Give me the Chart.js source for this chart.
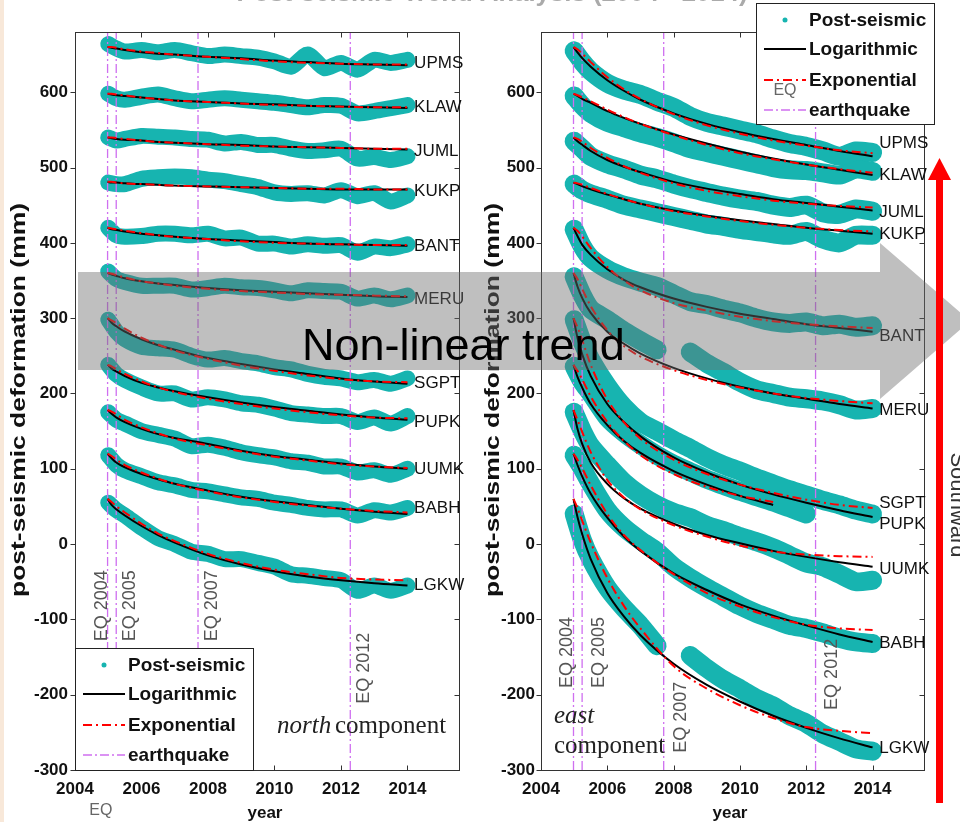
<!DOCTYPE html>
<html>
<head>
<meta charset="utf-8">
<title>Post-seismic deformation</title>
<script src="https://cdn.jsdelivr.net/npm/chart.js@4.4.0/dist/chart.umd.min.js"></script>
<style>
  html, body { margin: 0; padding: 0; background: #fff; }
  #wrap { position: relative; width: 960px; height: 822px; overflow: hidden; }
  #wrap canvas { position: absolute; top: 0; }
</style>
</head>
<body>
<div id="wrap">
  <canvas id="north" width="480" height="822" style="left:0"></canvas>
  <canvas id="east" width="480" height="822" style="left:480px"></canvas>
  <canvas id="overlay" width="960" height="822" style="left:0"></canvas>
</div>
<script>
// Post-seismic deformation, north and east components (mm)

const stations = ['UPMS', 'KLAW', 'JUML', 'KUKP', 'BANT', 'MERU', 'SGPT', 'PUPK', 'UUMK', 'BABH', 'LGKW'];
const fitYears = [2004.98, 2005.1, 2005.25, 2005.5, 2006, 2006.5, 2007, 2008, 2009, 2010, 2011, 2012, 2013, 2014];
const obsYears = [2005, 2005.25, 2005.5, 2006, 2006.5, 2007, 2007.5, 2008, 2008.5, 2009, 2009.5, 2010, 2010.5, 2011, 2011.5, 2012, 2012.5, 2013, 2013.5, 2014];
const quakeYears = [2004.98, 2005.24, 2007.7, 2012.28];
const quakeNames = ['EQ 2004', 'EQ 2005', 'EQ 2007', 'EQ 2012'];
const yearTicks = [2004, 2006, 2008, 2010, 2012, 2014];
const mmTicks = [-300, -200, -100, 0, 100, 200, 300, 400, 500, 600];

// north component
const northObs = [
    [664, 658, 654, 656, 653, 656, 652, 648, 650, 648, 646, 641, 634, 650, 632, 639, 630, 643, 639, 643],
    [598, 592, 590, 594, 597, 592, 588, 590, 592, 590, 588, 586, 583, 580, 583, 582, 572, 575, 579, 583],
    [540, 536, 538, 542, 541, 540, 538, 537, 532, 534, 530, 530, 525, 522, 523, 525, 512, 514, 510, 515],
    [480, 478, 478, 485, 487, 488, 487, 484, 482, 478, 474, 467, 465, 466, 463, 470, 462, 466, 455, 463],
    [420, 410, 408, 409, 412, 412, 410, 412, 406, 407, 399, 399, 395, 398, 396, 397, 387, 395, 393, 398],
    [362, 352, 348, 343, 343, 343, 338, 340, 343, 341, 340, 337, 333, 337, 336, 335, 326, 330, 325, 330],
    [298, 282, 272, 262, 260, 258, 250, 245, 247, 243, 240, 235, 232, 226, 222, 220, 215, 218, 213, 220],
    [238, 225, 218, 208, 200, 200, 192, 195, 192, 187, 185, 180, 174, 172, 170, 170, 162, 168, 160, 170],
    [175, 165, 160, 150, 145, 140, 130, 132, 128, 122, 118, 115, 110, 108, 103, 103, 95, 98, 92, 100],
    [118, 105, 98, 90, 82, 78, 72, 70, 66, 62, 60, 55, 52, 48, 46, 46, 38, 45, 42, 48],
    [55, 45, 38, 22, 8, 0, -10, -13, -20, -20, -25, -30, -40, -42, -45, -48, -62, -55, -62, -55]
];
const northLog = [
    [660, 659, 658, 656, 653, 651, 650, 647, 645, 642, 640, 638, 637, 636],
    [598, 597, 596, 595, 593, 591, 589, 587, 585, 584, 582, 581, 580, 579],
    [540, 539, 538, 537, 536, 534, 533, 531, 530, 528, 527, 526, 525, 524],
    [481, 480, 480, 479, 478, 477, 476, 475, 474, 473, 472, 471, 471, 471],
    [420, 418, 417, 415, 412, 410, 408, 405, 403, 401, 399, 398, 397, 396],
    [360, 358, 356, 353, 349, 346, 344, 340, 337, 335, 333, 331, 329, 328],
    [300, 294, 289, 282, 272, 264, 258, 247, 239, 232, 226, 220, 216, 213],
    [238, 233, 229, 223, 214, 208, 203, 195, 188, 182, 177, 172, 168, 165],
    [178, 173, 168, 162, 153, 146, 141, 133, 124, 117, 112, 107, 103, 100],
    [120, 114, 108, 102, 93, 86, 80, 71, 63, 57, 52, 47, 43, 40],
    [60, 52, 46, 38, 24, 12, 2, -15, -27, -36, -43, -48, -52, -55]
];
const northExp = [
    [660, 660, 659, 657, 654, 652, 650, 647, 644, 641, 639, 638, 637, 637],
    [598, 598, 597, 596, 593, 591, 589, 587, 585, 583, 582, 581, 580, 580],
    [540, 540, 539, 538, 536, 534, 533, 531, 529, 528, 527, 526, 525, 525],
    [481, 481, 480, 479, 478, 477, 476, 475, 474, 473, 472, 472, 471, 471],
    [420, 419, 418, 416, 413, 410, 408, 405, 402, 400, 399, 398, 397, 397],
    [360, 359, 357, 354, 349, 346, 343, 339, 336, 334, 332, 331, 330, 329],
    [300, 297, 293, 286, 274, 265, 257, 246, 237, 230, 224, 219, 216, 215],
    [238, 236, 232, 226, 216, 208, 202, 193, 186, 180, 175, 171, 168, 167],
    [178, 176, 172, 165, 155, 147, 140, 131, 123, 116, 111, 106, 103, 101],
    [120, 117, 112, 105, 95, 87, 80, 70, 62, 56, 51, 47, 44, 42],
    [60, 56, 50, 42, 27, 14, 4, -13, -25, -34, -40, -45, -47, -48]
];
const northLabelMm = [638, 580, 522, 469, 396, 325, 213, 162, 99, 47, -55];

// east component
const eastObs = [
    [655, 640, 628, 612, 603, 597, 588, 580, 568, 560, 555, 550, 545, 538, 532, 528, 522, 515, 522, 520],
    [595, 582, 572, 560, 553, 546, 540, 533, 525, 520, 515, 510, 505, 500, 497, 496, 493, 490, 498, 495],
    [535, 525, 515, 505, 498, 490, 485, 478, 472, 467, 462, 458, 455, 450, 447, 450, 440, 438, 445, 442],
    [478, 470, 465, 458, 450, 445, 440, 435, 430, 425, 422, 418, 415, 412, 410, 415, 405, 400, 410, 410],
    [418, 395, 380, 365, 355, 348, 342, 332, 322, 318, 312, 307, 300, 295, 293, 295, 290, 292, 288, 290],
    [355, 330, 312, 298, 283, 270, 258, null, 255, 240, 228, 215, 205, 200, 195, 193, 190, 185, 178, 180],
    [298, 268, 245, 210, 182, 162, 150, 138, 127, 115, 105, 97, 88, 80, 72, 65, 58, 52, 45, 40],
    [236, 215, 200, 168, 148, 132, 118, 106, 96, 86, 78, 70, 63, 56, 48, 40, null, null, null, null],
    [175, 150, 130, 105, 82, 65, 52, 42, 35, 25, 18, 10, 3, -5, -15, -25, -30, -40, -50, -48],
    [118, 100, 80, 45, 22, 5, -10, -30, -45, -58, -70, -82, -92, -100, -108, -112, -118, -125, -130, -132],
    [40, 5, -20, -58, -85, -108, -135, null, -148, -165, -180, -192, -205, -215, -228, -238, -252, -262, -272, -275]
];
const eastLog = [
    [660, 653, 645, 634, 616, 602, 590, 572, 558, 547, 538, 530, 522, 515],
    [598, 595, 591, 586, 575, 566, 558, 544, 532, 521, 512, 504, 497, 490],
    [540, 535, 530, 522, 510, 501, 494, 481, 472, 465, 458, 453, 448, 443],
    [480, 478, 475, 471, 464, 458, 452, 443, 436, 430, 425, 420, 416, 412],
    [420, 409, 397, 384, 365, 351, 341, 326, 315, 306, 299, 292, 287, 282],
    [360, 342, 326, 307, 282, 266, 253, 234, 220, 209, 200, 193, 186, 180],
    [300, 274, 251, 223, 186, 162, 143, 115, 95, 79, 66, 55, 45, 36],
    [238, 222, 207, 186, 158, 137, 121, 97, 79, 64, 52, null, null, null],
    [178, 153, 132, 108, 80, 61, 47, 27, 12, 1, -9, -17, -24, -30],
    [120, 105, 89, 67, 35, 10, -9, -39, -61, -80, -95, -108, -120, -130],
    [60, 36, 12, -20, -65, -96, -121, -159, -187, -209, -228, -244, -258, -270]
];
const eastExp = [
    [660, 657, 651, 640, 620, 604, 591, 571, 556, 545, 536, 529, 523, 519],
    [598, 596, 593, 588, 577, 567, 558, 543, 530, 519, 511, 504, 498, 493],
    [540, 538, 534, 526, 513, 502, 493, 479, 469, 462, 456, 452, 449, 447],
    [480, 479, 477, 473, 465, 458, 452, 442, 435, 429, 424, 420, 417, 415],
    [420, 416, 408, 393, 368, 350, 337, 320, 310, 302, 296, 292, 289, 287],
    [360, 352, 338, 316, 284, 263, 249, 231, 218, 208, 200, 194, 190, 187],
    [300, 288, 270, 238, 192, 162, 140, 112, 93, 79, 68, 59, 52, 48],
    [238, 230, 218, 196, 162, 137, 118, 93, 76, 64, 56, null, null, null],
    [178, 165, 148, 122, 85, 62, 46, 25, 10, -2, -10, -14, -16, -17],
    [120, 112, 100, 78, 40, 12, -8, -40, -65, -83, -97, -107, -112, -114],
    [60, 48, 30, 2, -45, -82, -112, -162, -192, -214, -231, -243, -248, -251]
];
const eastLabelMm = [532, 490, 441, 412, 276, 177, 54, 26, -33, -132, -271];

const CYAN = '#17b4b0';
const MAGENTA = '#cf6ff0';
const SANS = '"Liberation Sans", Arial, sans-serif';
const SERIF = '"Liberation Serif", "Times New Roman", serif';

function pairs(xs, ys) {
    return xs.map((x, i) => ({ x: x, y: ys[i] }));
}

function drawLegend(ctx, box) {
    ctx.save();
    ctx.fillStyle = '#fff';
    ctx.fillRect(box.x, box.y, box.w, box.h);
    ctx.strokeStyle = '#222';
    ctx.lineWidth = 1;
    ctx.strokeRect(box.x + 0.5, box.y + 0.5, box.w, box.h);
    const rows = [17, 46, 77, 107];
    const x0 = box.x + 8, x1 = box.x + 50;
    // Post-seismic dot
    ctx.fillStyle = CYAN;
    ctx.beginPath(); ctx.arc(box.x + 29, box.y + rows[0], 2.5, 0, Math.PI * 2); ctx.fill();
    // Logarithmic
    ctx.strokeStyle = '#000'; ctx.lineWidth = 2; ctx.setLineDash([]);
    ctx.beginPath(); ctx.moveTo(x0, box.y + rows[1]); ctx.lineTo(x1, box.y + rows[1]); ctx.stroke();
    // Exponential
    ctx.strokeStyle = '#f00'; ctx.setLineDash([9, 4, 2, 4]);
    ctx.beginPath(); ctx.moveTo(x0, box.y + rows[2]); ctx.lineTo(x1, box.y + rows[2]); ctx.stroke();
    // earthquake
    ctx.strokeStyle = MAGENTA; ctx.lineWidth = 1.3; ctx.setLineDash([9, 3, 2, 3]);
    ctx.beginPath(); ctx.moveTo(x0, box.y + rows[3]); ctx.lineTo(x1, box.y + rows[3]); ctx.stroke();
    ctx.setLineDash([]);
    if (box.eq) {
        ctx.fillStyle = '#666';
        ctx.font = '16px ' + SANS;
        ctx.textAlign = 'center'; ctx.textBaseline = 'middle';
        ctx.fillText('EQ', box.x + 29, box.y + 88);
    }
    ctx.fillStyle = '#111';
    ctx.font = 'bold 19px ' + SANS;
    ctx.textAlign = 'left'; ctx.textBaseline = 'middle';
    ['Post-seismic', 'Logarithmic', 'Exponential', 'earthquake'].forEach((t, i) => {
        ctx.fillText(t, box.x + 53, box.y + rows[i] + 1);
    });
    ctx.restore();
}

const panelDecor = {
    id: 'panelDecor',
    afterDraw(chart, args, o) {
        const ctx = chart.ctx, a = chart.chartArea;
        const xs = chart.scales.x, ys = chart.scales.y;
        ctx.save();

        // axes box and inward ticks
        ctx.strokeStyle = '#333'; ctx.lineWidth = 1;
        const L = Math.round(a.left) + 0.5, T = Math.round(a.top) + 0.5;
        const R = Math.round(a.right) + 0.5, B = Math.round(a.bottom) + 0.5;
        ctx.strokeRect(L, T, R - L, B - T);
        ctx.beginPath();
        yearTicks.forEach(v => {
            const px = Math.round(xs.getPixelForValue(v)) + 0.5;
            ctx.moveTo(px, B); ctx.lineTo(px, B - 5);
            ctx.moveTo(px, T); ctx.lineTo(px, T + 5);
        });
        mmTicks.forEach(v => {
            const py = Math.round(ys.getPixelForValue(v)) + 0.5;
            ctx.moveTo(L - 5, py); ctx.lineTo(L, py);
            ctx.moveTo(R, py); ctx.lineTo(R - 5, py);
        });
        ctx.stroke();

        // station names at the end of each series
        ctx.fillStyle = '#111';
        ctx.font = '17px ' + SANS;
        ctx.textAlign = 'left'; ctx.textBaseline = 'middle';
        const lx = xs.getPixelForValue(2014.2);
        stations.forEach((s, i) => ctx.fillText(s, lx, ys.getPixelForValue(o.labelMm[i])));

        // earthquake labels
        ctx.fillStyle = '#555';
        ctx.font = '18px ' + SANS;
        ctx.textAlign = 'center';
        quakeNames.forEach((t, i) => {
            ctx.save();
            ctx.translate(xs.getPixelForValue(quakeYears[i]) + o.eqDx[i], ys.getPixelForValue(o.eqMm[i]));
            ctx.rotate(-Math.PI / 2);
            ctx.fillText(t, 0, 0);
            ctx.restore();
        });

        // component caption
        ctx.fillStyle = '#222';
        ctx.textAlign = 'left'; ctx.textBaseline = 'alphabetic';
        o.caption.forEach(c => {
            ctx.font = (c.italic ? 'italic ' : '') + '25px ' + SERIF;
            ctx.fillText(c.text, c.x, c.y);
        });

        // y-axis title, stretched to the span of the original
        ctx.save();
        ctx.translate(o.titleX, 400);
        ctx.rotate(-Math.PI / 2);
        ctx.font = 'bold 21px ' + SANS;
        const t = 'post-seismic deformation (mm)';
        ctx.scale(394 / ctx.measureText(t).width, 1);
        ctx.textAlign = 'center'; ctx.textBaseline = 'middle';
        ctx.fillStyle = '#111';
        ctx.fillText(t, 0, 0);
        ctx.restore();

        // x-axis title
        ctx.font = 'bold 17px ' + SANS;
        ctx.textAlign = 'center'; ctx.textBaseline = 'middle';
        ctx.fillStyle = '#111';
        ctx.fillText('year', o.yearX, 813);
        if (o.eqUnder) {
            ctx.font = '16px ' + SANS;
            ctx.fillStyle = '#666';
            ctx.fillText('EQ', xs.getPixelForValue(2004.78), 811);
        }

        drawLegend(ctx, o.legend);
        ctx.restore();
    }
};

function makePanel(id, obs, logFit, expFit, o) {
    const datasets = [];
    stations.forEach((s, i) => datasets.push({
        label: s + ' post-seismic', data: pairs(obsYears, obs[i]),
        borderColor: CYAN, borderWidth: o.band, pointRadius: 0, tension: 0.25,
        borderJoinStyle: 'round', borderCapStyle: 'round', spanGaps: false, order: 5
    }));
    quakeYears.forEach(q => datasets.push({
        label: 'earthquake', data: [{ x: q, y: -300 }, { x: q, y: 680 }],
        borderColor: MAGENTA, borderWidth: 1.3, borderDash: [9, 3, 2, 3], pointRadius: 0, order: 4
    }));
    stations.forEach((s, i) => datasets.push({
        label: s + ' logarithmic', data: pairs(fitYears, logFit[i]),
        borderColor: '#000', borderWidth: 2, pointRadius: 0,
        cubicInterpolationMode: 'monotone', spanGaps: false, order: 3
    }));
    stations.forEach((s, i) => datasets.push({
        label: s + ' exponential', data: pairs(fitYears, expFit[i]),
        borderColor: '#f00', borderWidth: 2, borderDash: [9, 4, 2, 4], pointRadius: 0,
        cubicInterpolationMode: 'monotone', spanGaps: false, order: 2
    }));

    const tickFont = { family: SANS, size: 17, weight: 'bold' };
    return new Chart(document.getElementById(id), {
        type: 'line',
        data: { datasets: datasets },
        options: {
            responsive: false,
            animation: false,
            devicePixelRatio: 1,
            layout: { padding: { left: 0, right: o.padRight, top: 32, bottom: 0 } },
            plugins: { legend: { display: false }, tooltip: { enabled: false }, panelDecor: o },
            scales: {
                x: {
                    type: 'linear', min: 2004, max: 2015.55,
                    afterBuildTicks: s => { s.ticks = yearTicks.map(v => ({ value: v })); },
                    afterFit: s => { s.height = 52; },
                    grid: { display: false, drawTicks: false },
                    border: { display: false },
                    ticks: { font: tickFont, color: '#111', padding: 9, maxRotation: 0, autoSkip: false,
                             callback: v => String(v) }
                },
                y: {
                    type: 'linear', min: -300, max: 680,
                    afterBuildTicks: s => { s.ticks = mmTicks.map(v => ({ value: v })); },
                    afterFit: s => { s.width = o.yWidth; },
                    grid: { display: false, drawTicks: false },
                    border: { display: false },
                    ticks: { font: tickFont, color: '#111', padding: o.tickPad, autoSkip: false,
                             callback: v => String(v) }
                }
            }
        },
        plugins: [panelDecor]
    });
}

makePanel('north', northObs, northLog, northExp, {
    band: 16, yWidth: 75, padRight: 21, tickPad: 7, titleX: 19, yearX: 265, eqUnder: true,
    labelMm: northLabelMm,
    eqDx: [-6, 14, 14, 14], eqMm: [-82, -82, -82, -165],
    legend: { x: 75, y: 648, w: 178, h: 122, eq: false },
    caption: [{ text: 'north', italic: true, x: 277, y: 733 }, { text: 'component', x: 335, y: 733 }]
});

makePanel('east', eastObs, eastLog, eastExp, {
    band: 19, yWidth: 61, padRight: 36, tickPad: 6, titleX: 13, yearX: 250, eqUnder: false,
    labelMm: eastLabelMm,
    eqDx: [-6, 17, 17, 16], eqMm: [-144, -144, -230, -173],
    legend: { x: 276, y: 3, w: 178, h: 121, eq: true },
    caption: [{ text: 'east', italic: true, x: 74, y: 723 }, { text: 'component', x: 74, y: 753 }]
});

// Overlay: title fragment, trend arrow, southward arrow
const ov = document.getElementById('overlay').getContext('2d');

ov.fillStyle = 'rgba(240,205,170,0.45)';
ov.fillRect(0, 0, 4, 822);

ov.save();
ov.font = 'bold 24px ' + SANS;
const ttl = 'Post-seismic Trend Analysis (2004 - 2014)';
ov.translate(492, 1);
ov.scale(511 / ov.measureText(ttl).width, 1);
ov.fillStyle = '#aaa';
ov.textAlign = 'center'; ov.textBaseline = 'alphabetic';
ov.fillText(ttl, 0, 0);
ov.restore();

ov.fillStyle = 'rgba(110,110,110,0.44)';
ov.beginPath();
ov.moveTo(78, 272); ov.lineTo(880, 272); ov.lineTo(880, 243); ov.lineTo(970, 321);
ov.lineTo(880, 399); ov.lineTo(880, 370); ov.lineTo(78, 370);
ov.closePath(); ov.fill();

ov.fillStyle = '#000';
ov.font = '45px ' + SANS;
ov.textAlign = 'left'; ov.textBaseline = 'alphabetic';
ov.fillText('Non-linear trend', 302, 360);

ov.fillStyle = '#f00';
ov.fillRect(936, 176, 7, 627);
ov.beginPath();
ov.moveTo(928, 180); ov.lineTo(951, 180); ov.lineTo(939.5, 158);
ov.closePath(); ov.fill();

ov.save();
ov.translate(951, 505);
ov.rotate(Math.PI / 2);
ov.font = '22px ' + SANS;
ov.fillStyle = '#333';
ov.textAlign = 'center'; ov.textBaseline = 'alphabetic';
ov.fillText('Southward', 0, 0);
ov.restore();
</script>
</body>
</html>
